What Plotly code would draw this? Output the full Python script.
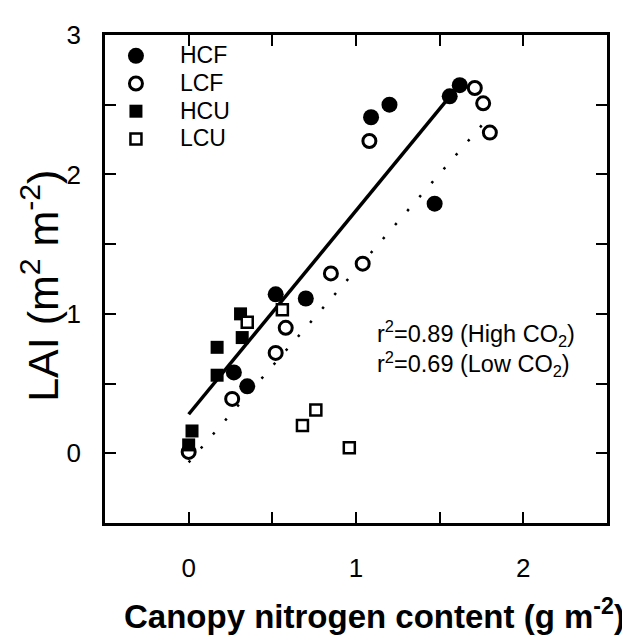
import numpy as np
import plotly.graph_objects as go

# ---- data ----
hcf_x = [1.62, 1.56, 1.20, 1.09, 1.47, 0.52, 0.70, 0.27, 0.35]
hcf_y = [2.64, 2.56, 2.50, 2.41, 1.79, 1.14, 1.11, 0.58, 0.48]

lcf_x = [1.71, 1.76, 1.80, 1.08, 1.04, 0.85, 0.58, 0.52, 0.26, 0.00]
lcf_y = [2.62, 2.51, 2.30, 2.24, 1.36, 1.29, 0.90, 0.72, 0.39, 0.01]

hcu_x = [0.31, 0.32, 0.17, 0.17, 0.02, 0.00]
hcu_y = [1.00, 0.83, 0.76, 0.56, 0.16, 0.06]

lcu_x = [0.56, 0.35, 0.76, 0.68, 0.96]
lcu_y = [1.03, 0.94, 0.31, 0.20, 0.04]

# regression lines (intercept, slope)
fit_high = (0.28, 1.46)
fit_low = (-0.065, 1.38)

series_names = ["HCF", "LCF", "HCU", "LCU"]
x_tickvals = [-0.5, 0, 0.5, 1, 1.5, 2, 2.5]
x_ticktext = ["", "0", "", "1", "", "2", ""]
y_tickvals = [-0.5, 0, 0.5, 1, 1.5, 2, 2.5, 3]
y_ticktext = ["", "0", "", "1", "", "2", "", "3"]

FONT = "Liberation Sans, Arial, sans-serif"
BLACK = "#000000"

# figure is drawn 8px from the page's top-left corner (body margin)
W, H = 622, 635
L, R, T, B = 97, 23, 15, 120
PW, PH = W - L - R, H - T - B


def px(xr):  # reference pixel x -> paper
    return (xr - 8 - L) / PW


def py(yr):  # reference pixel y -> paper
    return (H - B - (yr - 8)) / PH


def leg(name):
    return "<span style='font-size:23px'>%s</span>" % name


fig = go.Figure()

hx = np.array([min(hcf_x + hcu_x), max(hcf_x + hcu_x)])
lx = np.array([min(lcf_x + lcu_x), max(lcf_x + lcu_x)])
fig.add_trace(go.Scatter(x=hx, y=fit_high[0] + fit_high[1] * hx, mode="lines",
                         line=dict(color=BLACK, width=3.5), showlegend=False, hoverinfo="skip"))
fig.add_trace(go.Scatter(x=lx, y=fit_low[0] + fit_low[1] * lx, mode="lines",
                         line=dict(color=BLACK, width=2.5, dash="2.5px,16px"),
                         showlegend=False, hoverinfo="skip"))

fig.add_trace(go.Scatter(x=hcf_x, y=hcf_y, mode="markers", name=leg(series_names[0]),
                         marker=dict(symbol="circle", size=16, color=BLACK, line=dict(width=0))))
fig.add_trace(go.Scatter(x=lcf_x, y=lcf_y, mode="markers", name=leg(series_names[1]),
                         marker=dict(symbol="circle", size=13, color="white",
                                     line=dict(width=3, color=BLACK))))
fig.add_trace(go.Scatter(x=hcu_x, y=hcu_y, mode="markers", name=leg(series_names[2]),
                         marker=dict(symbol="square", size=13, color=BLACK, line=dict(width=0))))
fig.add_trace(go.Scatter(x=lcu_x, y=lcu_y, mode="markers", name=leg(series_names[3]),
                         marker=dict(symbol="square", size=11, color="white",
                                     line=dict(width=2.5, color=BLACK))))

axis_common = dict(
    showgrid=False, zeroline=False, showline=True, linecolor=BLACK, linewidth=2.5,
    mirror="ticks", ticks="inside", ticklen=11, tickwidth=2, tickcolor=BLACK,
    tickfont=dict(family=FONT, size=26, color=BLACK), tickmode="array",
)

fig.update_layout(
    width=W, height=H,
    margin=dict(l=L, r=R, t=T, b=B),
    plot_bgcolor="white", paper_bgcolor="white",
    font=dict(family=FONT, color=BLACK),
    xaxis=dict(range=[-0.5, 2.5], tickvals=x_tickvals, ticktext=x_ticktext,
               ticklabelstandoff=20, **axis_common),
    yaxis=dict(range=[-0.5, 3], tickvals=y_tickvals, ticktext=y_ticktext,
               ticklabelstandoff=16, **axis_common),
    legend=dict(x=-0.026, y=0.996, xanchor="left", yanchor="top",
                bgcolor="rgba(0,0,0,0)", borderwidth=0, itemwidth=78,
                font=dict(family=FONT, size=19, color=BLACK), tracegroupgap=0),
    showlegend=True,
)

fig.add_annotation(xref="paper", yref="paper", x=px(374), y=py(616),
                   text="<b>Canopy nitrogen content (g m<sup>-2</sup>)</b>", showarrow=False,
                   font=dict(family=FONT, size=33, color=BLACK), xanchor="center", yanchor="middle")
fig.add_annotation(xref="paper", yref="paper", x=px(40), y=py(280),
                   text="LAI (m<sup>2</sup> m<sup>-2</sup>)", showarrow=False, textangle=-90,
                   font=dict(family=FONT, size=43, color=BLACK), xanchor="center", yanchor="middle")
fig.add_annotation(xref="paper", yref="paper", x=px(375), y=py(344),
                   text="r<sup>2</sup>=0.89 (High CO<sub>2</sub>)<br>r<sup>2</sup>=0.69 (Low CO<sub>2</sub>)",
                   showarrow=False, align="left", xanchor="left", yanchor="middle",
                   font=dict(family=FONT, size=23.5, color=BLACK))

fig.write_html("out.html")
